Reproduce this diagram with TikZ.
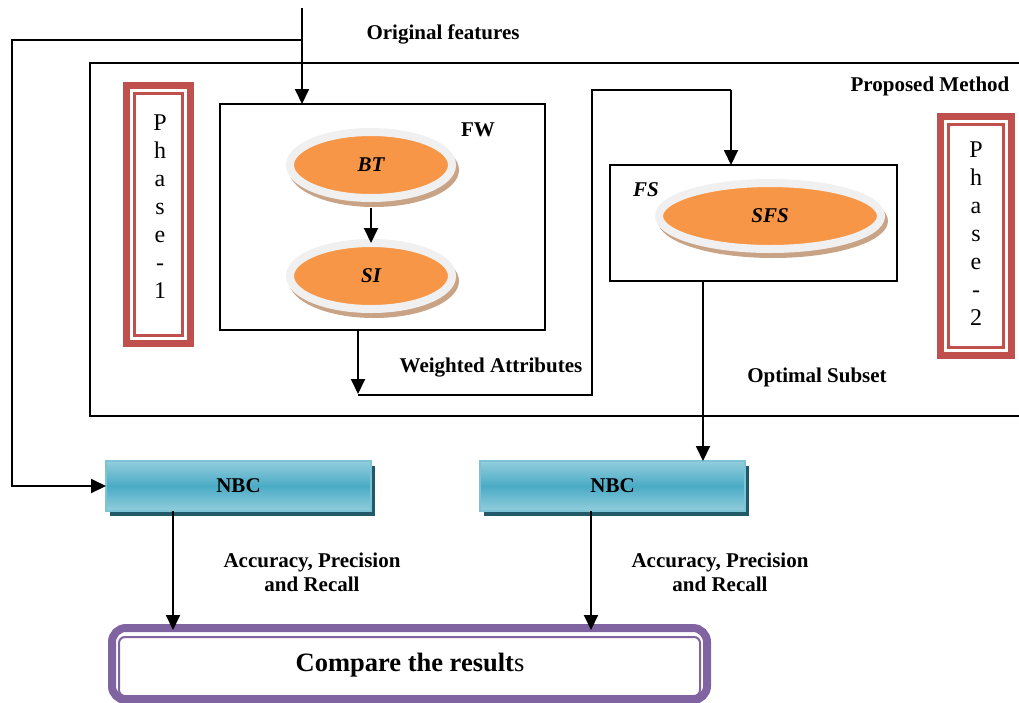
\documentclass[tikz,border=0pt]{standalone}
\usepackage{fontspec}
\setmainfont{Liberation Serif}
\usetikzlibrary{arrows.meta,shapes.geometric,shadows}
\definecolor{orng}{HTML}{F79646}
\definecolor{ringc}{HTML}{F0F0F0}
\definecolor{shbrown}{HTML}{C9A386}
\definecolor{phred}{HTML}{C0504D}
\definecolor{purp}{HTML}{8064A2}
\definecolor{tlight}{HTML}{93CDDD}
\definecolor{tdark}{HTML}{4AABC5}
\definecolor{tborder}{HTML}{7CC3D6}
\definecolor{tshadow}{HTML}{215968}
\begin{document}
\begin{tikzpicture}[x=1pt,y=-1pt,
  line/.style={line width=1.9pt},
  arr/.style={line width=1.9pt,-{Triangle[length=15pt,width=14pt]}},
  lbl/.style={font=\fontsize{21}{24}\selectfont\bfseries,align=center,inner sep=0},
  box/.style={draw,line width=1.8pt,inner sep=0,outer sep=0},
  ell/.style={ellipse,fill=orng,draw=ringc,line width=8pt,inner sep=0,outer sep=0,
    font=\fontsize{21}{24}\selectfont\bfseries\itshape},
  phbox/.style={draw=phred,line width=7pt,inner sep=0,outer sep=0,fill=white},
  phtxt/.style={font=\fontsize{24}{28}\selectfont,align=center,inner sep=0},
  nbc/.style={draw=tborder,line width=1.8pt,top color=tlight,bottom color=tlight,middle color=tdark,
    minimum width=265pt,minimum height=50pt,inner sep=0,outer sep=0,
    drop shadow={shadow xshift=4pt,shadow yshift=-5pt,fill=tshadow,opacity=1},
    font=\fontsize{21}{24}\selectfont\bfseries}]
\useasboundingbox (0,0) rectangle (1019,702);
\clip (0,0) rectangle (1019,702);

% Proposed method container
\node[box,minimum width=950pt,minimum height=353pt,anchor=north west] (pm) at (90,63) {};
\node[lbl] (pmlbl) at (930,86) {Proposed Method};

% Phase 1
\node[phbox,minimum width=64pt,minimum height=258pt] (ph1) at (158.5,214.5) {};
\draw[phred,line width=2.5pt] ([shift={(8pt,-8pt)}]ph1.north west) rectangle ([shift={(-8pt,8pt)}]ph1.south east);
\node[phtxt] (ph1t) at (160,207) {P\\h\\a\\s\\e\\-\\1};

% Phase 2
\node[phbox,minimum width=71pt,minimum height=239pt] (ph2) at (976,236) {};
\draw[phred,line width=2.5pt] ([shift={(8pt,-8pt)}]ph2.north west) rectangle ([shift={(-8pt,8pt)}]ph2.south east);
\node[phtxt] (ph2t) at (976,234) {P\\h\\a\\s\\e\\-\\2};

% FW box
\node[box,minimum width=325pt,minimum height=226pt,anchor=north west] (fw) at (220,104) {};
\node[lbl] (fwlbl) at (478,130) {FW};
\fill[shbrown] (374,170) ellipse [x radius=85, y radius=37];
\node[ell,minimum width=162pt,minimum height=66pt] (bt) at (371,165) {BT};
\fill[shbrown] (374,281) ellipse [x radius=85, y radius=37];
\node[ell,minimum width=162pt,minimum height=66pt] (si) at (371,276) {SI};
\draw[arr] ([yshift=-10pt]bt.south) -- (si.north);

% FS box
\node[box,minimum width=287pt,minimum height=116pt,anchor=north west] (fs) at (610,165) {};
\node[lbl,font=\fontsize{21}{24}\selectfont\bfseries\itshape] (fslbl) at (646,190) {FS};
\fill[shbrown] (773,221) ellipse [x radius=115, y radius=37];
\node[ell,minimum width=222pt,minimum height=66pt] (sfs) at (770,216) {SFS};

% NBC boxes
\node[nbc] (nbc1) at (238.5,486) {NBC};
\node[nbc] (nbc2) at (612.5,486) {NBC};

% Compare box
\node[draw=purp,line width=8pt,rounded corners=14pt,minimum width=595pt,minimum height=72pt,inner sep=0,outer sep=0] (cmp) at (409.5,664) {};
\draw[purp,line width=2pt,rounded corners=6pt] (119,637) rectangle (700,696);
\node[inner sep=0,font=\fontsize{26.5}{30}\selectfont] (cmpt) at (410,665) {\textbf{Compare the result}s};

% Connectors
\coordinate (top) at (302,8);
\coordinate (split) at (302,40);
\coordinate (lc) at (12,40);
\draw[arr] (top) -- (top |- fw.north);
\draw[arr] (split) -- (lc) |- (nbc1.west);
\node[lbl] (oflbl) at (443,34) {Original features};

\coordinate (wa) at (358,395);
\coordinate (c1) at (592,90);
\coordinate (c2) at (731,90);
\draw[arr] (wa |- fw.south) -- ([yshift=1pt]wa);
\draw[line] (wa) -| (c1) -- (c2);
\draw[arr] (c2) -- (c2 |- fs.north);
\node[lbl] (walbl) at (491,368) {Weighted Attributes};

\coordinate (os) at (703,0);
\draw[arr] (os |- fs.south) -- (os |- nbc2.north);
\node[lbl] (oslbl) at (817,377) {Optimal Subset};

\coordinate (o1) at (173,0);
\coordinate (o2) at (591,0);
\draw[arr] (o1 |- nbc1.south) -- ([yshift=-2pt]o1 |- cmp.north);
\draw[arr] (o2 |- nbc2.south) -- ([yshift=-2pt]o2 |- cmp.north);
\node[lbl] (acc1) at (312,572) {Accuracy, Precision\\and Recall};
\node[lbl] (acc2) at (720,572) {Accuracy, Precision\\and Recall};
\end{tikzpicture}
\end{document}
